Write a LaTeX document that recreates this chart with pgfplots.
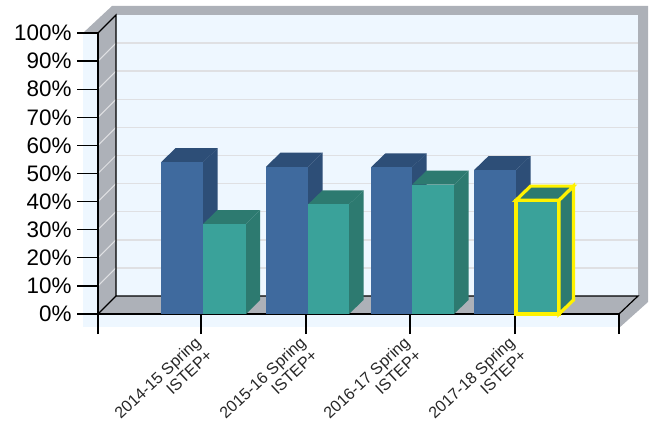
\documentclass[border=0pt]{standalone}
\usepackage{pgfplots}
\pgfplotsset{compat=1.18}
\usepackage{fontspec}
\setmainfont{Liberation Sans}
\definecolor{plate}{HTML}{EEF7FF}
\definecolor{wall}{HTML}{ADB1B8}
\definecolor{gridc}{HTML}{DFE0E3}
\definecolor{bluef}{HTML}{3F6A9E}
\definecolor{bluet}{HTML}{2D4E77}
\definecolor{tealf}{HTML}{3AA29A}
\definecolor{tealt}{HTML}{2D7A70}
% x0, x1, x0 back, x1 back, value, value back, front colour, dark colour
\newcommand\threedbar[8]{%
  \addplot[fill=#8,draw=none] coordinates {(#2,0)(#4,4.98)(#4,#6)(#2,#5)} --cycle;
  \addplot[fill=#8,draw=none] coordinates {(#1,#5)(#3,#6)(#4,#6)(#2,#5)} --cycle;
  \addplot[fill=#7,draw=none] coordinates {(#1,0)(#1,#5)(#2,#5)(#2,0)} --cycle;
}
\newcommand\ytickline[1]{\addplot[black,line width=1.2bp] coordinates {(77,#1)(98,#1)};}
\begin{document}
\begin{tikzpicture}
% scenery, in pixels of the picture
\begin{axis}[name=back,at={(0bp,0bp)},anchor=south west,scale only axis,width=657bp,height=423bp,
  xmin=0,xmax=657,ymin=0,ymax=423,y dir=reverse,hide axis,clip=false]
\addplot[fill=plate,draw=none] coordinates {(83,33)(619,33)(619,327)(83,327)} --cycle;
\addplot[fill=plate,draw=none] coordinates {(116,15)(638,15)(638,296)(116,296)} --cycle;
\addplot[fill=wall,draw=none] coordinates {(83,33)(112,6)(648,6)(648,302)(619,328)(619,314)(638,296)(638,15)(116,15)(98,33)} --cycle;
\addplot[fill=wall,draw=none] coordinates {(98,33)(116,15)(116,296)(98,314)} --cycle;
\addplot[fill=wall,draw=none] coordinates {(98,314)(116,296)(638,296)(619,314)} --cycle;
\addplot[gridc,line width=1.5bp] coordinates {(116,43.1)(638,43.1)};
\addplot[gridc,line width=1.5bp] coordinates {(116,71.2)(638,71.2)};
\addplot[gridc,line width=1.5bp] coordinates {(116,99.3)(638,99.3)};
\addplot[gridc,line width=1.5bp] coordinates {(116,127.4)(638,127.4)};
\addplot[gridc,line width=1.5bp] coordinates {(116,155.5)(638,155.5)};
\addplot[gridc,line width=1.5bp] coordinates {(116,183.6)(638,183.6)};
\addplot[gridc,line width=1.5bp] coordinates {(116,211.7)(638,211.7)};
\addplot[gridc,line width=1.5bp] coordinates {(116,239.8)(638,239.8)};
\addplot[gridc,line width=1.5bp] coordinates {(116,267.9)(638,267.9)};
\addplot[gridc,line width=1bp] coordinates {(98,61.1)(116,43.1)};
\addplot[gridc,line width=1bp] coordinates {(98,89.2)(116,71.2)};
\addplot[gridc,line width=1bp] coordinates {(98,117.3)(116,99.3)};
\addplot[gridc,line width=1bp] coordinates {(98,145.4)(116,127.4)};
\addplot[gridc,line width=1bp] coordinates {(98,173.5)(116,155.5)};
\addplot[gridc,line width=1bp] coordinates {(98,201.6)(116,183.6)};
\addplot[gridc,line width=1bp] coordinates {(98,229.7)(116,211.7)};
\addplot[gridc,line width=1bp] coordinates {(98,257.8)(116,239.8)};
\addplot[gridc,line width=1bp] coordinates {(98,285.9)(116,267.9)};
\addplot[black,line width=1.2bp] coordinates {(98,33)(116,15)(116,296)(638,296)(619,314)};
\addplot[black,line width=1.2bp] coordinates {(116,296)(98,314)};
\addplot[black,line width=1.2bp] coordinates {(98,33)(98,314)};
\ytickline{33}\ytickline{61.1}\ytickline{89.2}\ytickline{117.3}\ytickline{145.4}\ytickline{173.5}\ytickline{201.6}\ytickline{229.7}\ytickline{257.8}\ytickline{285.9}\ytickline{314}
\coordinate (tl) at (axis cs:0,0);
\coordinate (br) at (axis cs:657,423);
\end{axis}
% the chart
\begin{axis}[at={(98bp,109bp)},anchor=south west,scale only axis,width=521bp,height=281bp,
  xmin=98,xmax=619,ymin=0,ymax=100,clip=false,
  axis x line=bottom,axis y line=left,axis line style={-,black,line width=1.2bp},
  tick style={black,line width=1.2bp},major tick length=20bp,tick align=outside,
  ytick={0,10,20,30,40,50,60,70,80,90,100},
  yticklabels={0\%,10\%,20\%,30\%,40\%,50\%,60\%,70\%,80\%,90\%,100\%},
  yticklabel style={font=\fontsize{22.5}{22.5}\selectfont,xshift=-3bp},
  xtick={98,201,306,410,515,619},
  xticklabels={,{2014-15 Spring\\ISTEP+},{2015-16 Spring\\ISTEP+},{2016-17 Spring\\ISTEP+},{2017-18 Spring\\ISTEP+},},
  xticklabel style={font=\fontsize{16.2}{17.5}\selectfont,rotate=43,anchor=north east,align=right,text=black!85,xshift=-3bp,yshift=7.3bp},
]
\threedbar{161}{203}{175.5}{217.5}{54.0}{59.0}{bluef}{bluet}
\threedbar{203}{246}{217.5}{260}{32.0}{37.0}{tealf}{tealt}
\threedbar{266}{308}{280.5}{322.5}{52.4}{57.4}{bluef}{bluet}
\threedbar{308}{349}{322.5}{363.5}{39.0}{44.0}{tealf}{tealt}
\threedbar{371}{412}{385.5}{426.5}{52.2}{57.2}{bluef}{bluet}
\threedbar{412}{454}{426.5}{468.5}{46.0}{51.0}{tealf}{tealt}
\threedbar{474}{516}{488.5}{530.5}{51.2}{56.2}{bluef}{bluet}
\addplot[fill=tealf,draw=yellow,line width=3.2bp] coordinates {(516,0)(516,40.5)(559,40.5)(559,0)} --cycle;
\addplot[fill=tealt,draw=yellow,line width=3.2bp] coordinates {(559,0)(573.5,4.98)(573.5,45.5)(559,40.5)} --cycle;
\addplot[fill=tealt,draw=yellow,line width=3.2bp] coordinates {(516,40.5)(530.5,45.5)(573.5,45.5)(559,40.5)} --cycle;
\end{axis}
\pgfresetboundingbox
\path[use as bounding box] (tl) rectangle (br);
\end{tikzpicture}
\end{document}
